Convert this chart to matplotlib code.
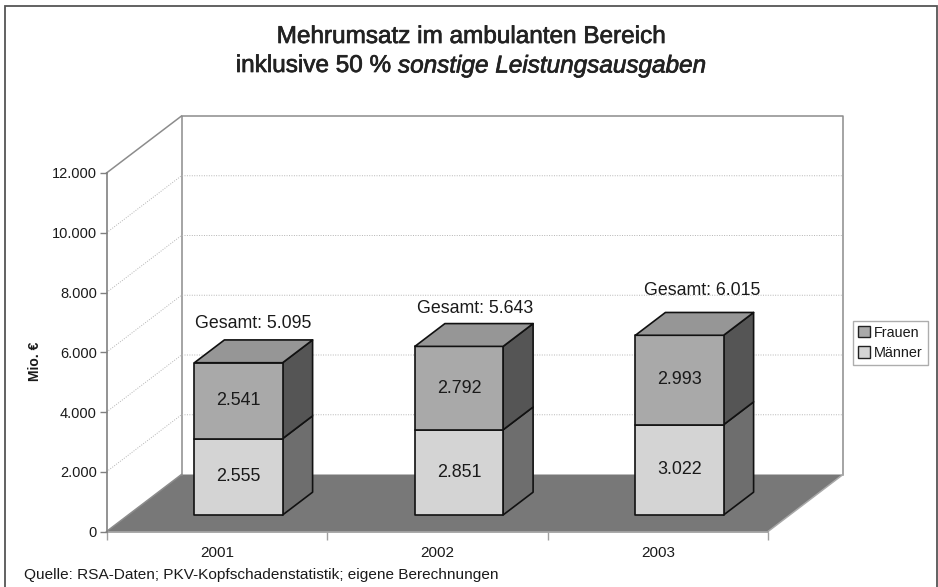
import matplotlib
matplotlib.use("Agg")
import matplotlib.pyplot as plt
import matplotlib.patheffects as pe
from matplotlib.patches import Patch, Rectangle

plt.rcParams['font.family'] = ['Liberation Sans', 'DejaVu Sans']

years = ["2001", "2002", "2003"]
maenner = [2555, 2851, 3022]
frauen = [2541, 2792, 2993]
gesamt = [5095, 5643, 6015]
y_ticks = [0, 2000, 4000, 6000, 8000, 10000, 12000]


def de(v):
    return format(v, ",").replace(",", ".")


W, H = 938, 587
fig = plt.figure(figsize=(W / 100, H / 100), dpi=100)
fig.patch.set_facecolor("white")

# frame round the whole chart, bottom edge is cut off
fig.add_artist(Rectangle((4.5 / W, -0.01), 932.5 / W, 1.0 - 6 / H + 0.01,
                         transform=fig.transFigure, fill=False,
                         edgecolor="#555555", linewidth=1.3))

# axes = front plane of the 3d box
left, right, bottom, top = 106.5, 768, 531.5, 173
ax = fig.add_axes([left / W, 1 - bottom / H, (right - left) / W, (bottom - top) / H])
ax.set_xlim(0, 3)
ax.set_ylim(0, 12000)
ax.patch.set_visible(False)
for s in ["top", "right", "bottom"]:
    ax.spines[s].set_visible(False)
ax.spines["left"].set_color("#808080")
ax.spines["left"].set_linewidth(1.2)

# depth of the box in data units
DX = 75 / ((right - left) / 3)
DY = 57 / ((bottom - top) / 12000)


def proj(x, v, d):
    return x + d * DX, v + d * DY


def face(pts, color, ec="none", lw=0, z=2):
    xs = [p[0] for p in pts]
    ys = [p[1] for p in pts]
    ax.fill(xs, ys, facecolor=color, edgecolor=ec, linewidth=lw, clip_on=False,
            zorder=z, joinstyle="round")


# floor
face([proj(0, 0, 0), proj(3, 0, 0), proj(3, 0, 1), proj(0, 0, 1)], "#787878", z=1)
ax.plot([0, 3], [0, 0], color="#9a9a9a", lw=1.2, clip_on=False, zorder=1.5)

# walls
wall = "#8c8c8c"
ax.plot(*zip(proj(0, 0, 1), proj(0, 12000, 1), proj(3, 12000, 1), proj(3, 0, 1)),
        color=wall, lw=1.1, clip_on=False, zorder=1)
ax.plot(*zip(proj(0, 12000, 0), proj(0, 12000, 1)), color=wall, lw=1.1, clip_on=False, zorder=1)
ax.plot(*zip(proj(0, 0, 0), proj(0, 0, 1)), color=wall, lw=1.1, clip_on=False, zorder=1)
ax.plot(*zip(proj(3, 0, 0), proj(3, 0, 1)), color="#a8a8a8", lw=1.1, clip_on=False, zorder=1)
for t in y_ticks[1:-1]:
    ax.plot(*zip(proj(0, t, 0), proj(0, t, 1), proj(3, t, 1)), color="#b4b4b4",
            lw=0.7, ls=(0, (1, 1.5)), clip_on=False, zorder=1)

# bars
BAR_W = 0.4
D0, D1 = 0.29, 0.69
edge = "#111111"
label_offset = [(15, 39), (16, 38), (23, 45)]
for i in range(len(years)):
    xl, xr = i + 0.5 - BAR_W / 2, i + 0.5 + BAR_W / 2
    a = 0
    segs = [(maenner[i], "#d4d4d4", "#6e6e6e"), (frauen[i], "#a9a9a9", "#555555")]
    for val, front, side in segs:
        b = a + val
        face([proj(xr, a, D0), proj(xr, a, D1), proj(xr, b, D1), proj(xr, b, D0)],
             side, edge, 1.2, 3)
        face([proj(xl, a, D0), proj(xr, a, D0), proj(xr, b, D0), proj(xl, b, D0)],
             front, edge, 1.2, 4)
        cx, cy = proj(i + 0.5, a + val / 2, D0)
        ax.text(cx, cy, de(val), ha="center", va="center", fontsize=12.9,
                color="#1a1a1a", zorder=6)
        a = b
    face([proj(xl, a, D0), proj(xr, a, D0), proj(xr, a, D1), proj(xl, a, D1)],
         "#969696", edge, 1.2, 5)
    cx, cy = proj(i + 0.5, a, D0)
    ax.annotate("Gesamt: " + de(gesamt[i]), (cx, cy), xytext=(label_offset[i][0] * 0.72, label_offset[i][1] * 0.72),
                textcoords="offset points", ha="center", va="center", fontsize=12.8,
                color="#1a1a1a", annotation_clip=False, zorder=6)

# ticks
ax.set_yticks(y_ticks)
ax.set_yticklabels([de(t) for t in y_ticks], fontsize=10.5, color="#1a1a1a")
ax.tick_params(axis="y", length=5, width=1.0, color="#808080", pad=2)
ax.set_xticks([0, 1, 2, 3])
ax.set_xticklabels([])
ax.tick_params(axis="x", which="major", length=6, width=1.0, color="#a0a0a0")
ax.set_xticks([0.5, 1.5, 2.5], minor=True)
ax.set_xticklabels(years, minor=True, fontsize=11, color="#1a1a1a")
ax.tick_params(axis="x", which="minor", length=0, pad=10.5)
ax.set_ylabel("Mio. €", fontsize=10, fontweight="bold", color="#1a1a1a")
ax.yaxis.set_label_coords((42 - left) / (right - left), 0.475)

# title, regular font with a thin stroke for the medium weight
thick = [pe.withStroke(linewidth=0.5, foreground="#222222")]
fig.text(470.5 / W, 1 - 37 / H, "Mehrumsatz im ambulanten Bereich", ha="center", va="center",
         fontsize=17.5, color="#222222", path_effects=thick)
fig.text(391 / W, 1 - 66 / H, "inklusive 50 %", ha="right", va="center",
         fontsize=17.5, color="#222222", path_effects=thick)
fig.text(398 / W, 1 - 66 / H, "sonstige Leistungsausgaben", ha="left", va="center",
         fontsize=17.5, fontstyle="italic", color="#222222", path_effects=thick)

# legend
handles = [Patch(facecolor="#a9a9a9", edgecolor="#222222", label="Frauen"),
           Patch(facecolor="#d4d4d4", edgecolor="#222222", label="Männer")]
leg = fig.legend(handles=handles, loc="upper left", bbox_to_anchor=(853 / W, 1 - 320.5 / H),
                 fontsize=10.4, frameon=True, fancybox=False, edgecolor="#999999",
                 borderaxespad=0, borderpad=0.35, handlelength=0.85, handleheight=0.85,
                 handletextpad=0.25, labelspacing=0.45, labelcolor="#1a1a1a")

fig.text(24 / W, 1 - 575 / H, "Quelle: RSA-Daten; PKV-Kopfschadenstatistik; eigene Berechnungen",
         ha="left", va="center", fontsize=11.1, color="#1a1a1a")

fig.savefig("out.png", dpi=100)
